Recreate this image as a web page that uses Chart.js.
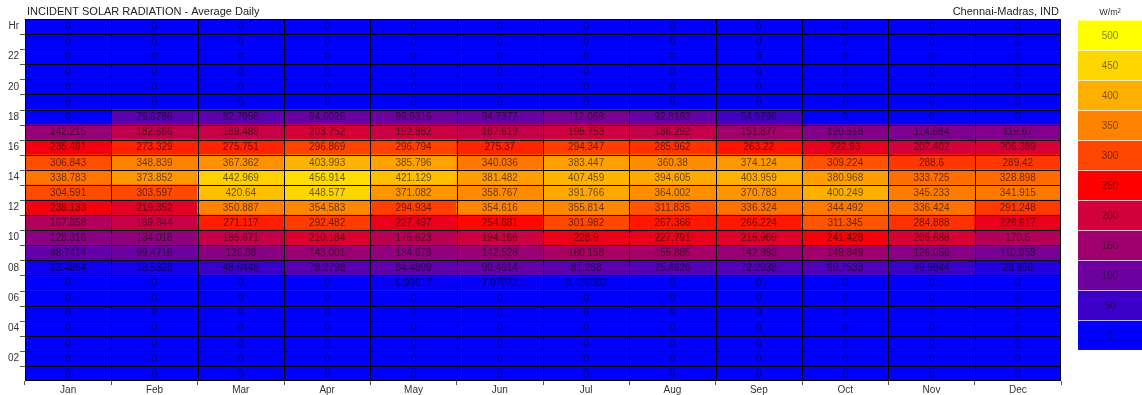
<!DOCTYPE html>
<html>
<head>
<meta charset="utf-8">
<title>Incident Solar Radiation</title>
<script src="https://cdn.jsdelivr.net/npm/chart.js@4.4.0/dist/chart.umd.min.js"></script>
<style>
  body { margin: 0; background: #fff; }
</style>
</head>
<body>
<canvas id="grid" width="1142" height="395"></canvas>
<script>
const months = ['Jan', 'Feb', 'Mar', 'Apr', 'May', 'Jun', 'Jul', 'Aug', 'Sep', 'Oct', 'Nov', 'Dec']

// average daily radiation, W/m2, one array per hour of the day
const h07 = [0, 0, 0, 0, 6.99617, 7.07022, 0.426602, 0, 0, 0, 0, 0]
const h08 = [13.4864, 18.5328, 48.6446, 78.2798, 84.4899, 90.4614, 81.268, 75.4626, 72.2938, 69.7533, 49.9844, 28.856]
const h09 = [88.7414, 99.4716, 126.88, 143.001, 134.678, 142.528, 160.158, 155.885, 142.393, 149.849, 126.056, 110.959]
const h10 = [128.316, 134.018, 185.671, 210.184, 175.623, 194.166, 228.9, 227.791, 215.969, 241.428, 206.688, 170.5]
const h11 = [167.858, 189.844, 271.117, 292.482, 227.497, 254.681, 301.982, 267.366, 266.224, 311.345, 284.888, 226.617]
const h12 = [238.133, 219.352, 350.887, 354.583, 294.934, 354.616, 355.814, 311.835, 336.324, 344.492, 336.424, 291.248]
const h13 = [304.591, 303.597, 420.64, 448.577, 371.082, 358.767, 391.766, 364.002, 370.783, 400.249, 345.233, 341.915]
const h14 = [338.783, 373.852, 442.969, 456.914, 421.129, 381.482, 407.459, 394.605, 403.959, 380.968, 333.725, 328.898]
const h15 = [306.843, 348.839, 367.362, 403.993, 385.796, 340.036, 383.447, 360.38, 374.124, 309.224, 288.6, 289.42]
const h16 = [235.491, 273.329, 275.751, 296.869, 296.794, 275.37, 294.347, 285.962, 263.22, 222.93, 202.402, 206.389]
const h17 = [142.215, 182.666, 189.489, 203.752, 192.882, 187.619, 195.753, 186.292, 151.877, 120.518, 114.684, 119.67]
const h18 = [0, 79.6786, 82.7956, 94.6026, 99.9316, 94.7377, 112.069, 92.8193, 54.9796, 0, 0, 0]
const night = [0, 0, 0, 0, 0, 0, 0, 0, 0, 0, 0, 0]

// hour 1 (bottom row) up to hour 24 (top row)
const hourRows = [night, night, night, night, night, night,
  h07, h08, h09, h10, h11, h12, h13, h14, h15, h16, h17, h18,
  night, night, night, night, night, night]

// colour key
const keyValues = [0, 50, 100, 150, 200, 250, 300, 350, 400, 450, 500]
const keyColors = ['#0000ff', '#3c00c8', '#6e00a0', '#a0006e', '#d2003c', '#ff0000',
  '#ff4600', '#ff8200', '#ffaf00', '#ffd700', '#ffff00']

function hexRgb(h) {
  return [1, 3, 5].map(i => parseInt(h.substr(i, 2), 16))
}

function shade(v) {
  let i = 0
  while (i < keyValues.length - 2 && v > keyValues[i + 1]) i++
  let t = (v - keyValues[i]) / (keyValues[i + 1] - keyValues[i])
  t = Math.max(0, Math.min(1, t))
  const a = hexRgb(keyColors[i]), b = hexRgb(keyColors[i + 1])
  const c = a.map((x, k) => Math.round(x + (b[k] - x) * t))
  return 'rgb(' + c.join(',') + ')'
}

Chart.defaults.font.family = '"Liberation Sans", Arial, sans-serif'
Chart.defaults.color = '#333'

const datasets = hourRows.map((vals, i) => ({
  label: 'Hr ' + (i + 1),
  data: months.map(() => [i, i + 1]),
  values: vals,
  backgroundColor: ctx => shade(vals[ctx.dataIndex]),
  borderWidth: 0,
  grouped: false,
  categoryPercentage: 1,
  barPercentage: 1
}))

// cell lines and the value text in the middle of every cell
const cellText = {
  id: 'cellText',
  afterDatasetsDraw(chart) {
    const ctx = chart.ctx
    const a = chart.chartArea
    const x = chart.scales.x, y = chart.scales.y
    ctx.save()
    ctx.strokeStyle = '#000'
    ctx.lineWidth = 1
    ctx.beginPath()
    for (let h = 0; h <= 24; h++) {
      const py = Math.min(Math.round(y.getPixelForValue(h)), a.bottom - 1) + 0.5
      ctx.moveTo(a.left, py)
      ctx.lineTo(a.right, py)
    }
    const step = x.width / months.length
    for (let m = 0; m <= months.length; m++) {
      const px = Math.min(Math.round(x.getPixelForValue(m) - step / 2), a.right - 1) + 0.5
      ctx.moveTo(px, a.top)
      ctx.lineTo(px, a.bottom)
    }
    ctx.stroke()

    ctx.font = '10px "Liberation Sans", Arial, sans-serif'
    ctx.fillStyle = 'rgba(0,0,0,0.6)'
    ctx.textAlign = 'center'
    ctx.textBaseline = 'middle'
    chart.data.datasets.forEach((ds, di) => {
      chart.getDatasetMeta(di).data.forEach((bar, j) => {
        ctx.fillText(String(ds.values[j]), bar.x, (bar.y + bar.base) / 2 + 0.5)
      })
    })
    ctx.restore()
  }
}

// hour tick marks, headings and the colour key
const extras = {
  id: 'extras',
  afterDraw(chart) {
    const ctx = chart.ctx
    const a = chart.chartArea
    const y = chart.scales.y
    ctx.save()
    ctx.strokeStyle = '#555'
    ctx.lineWidth = 1
    for (let h = 1; h < 24; h++) {
      const py = Math.round(y.getPixelForValue(h)) + 0.5
      ctx.beginPath()
      ctx.moveTo(a.left - 5, py)
      ctx.lineTo(a.left, py)
      ctx.stroke()
    }

    ctx.fillStyle = '#222'
    ctx.font = '11px "Liberation Sans", Arial, sans-serif'
    ctx.textBaseline = 'middle'
    ctx.textAlign = 'left'
    ctx.fillText('INCIDENT SOLAR RADIATION - Average Daily', a.left + 2, 12)
    ctx.textAlign = 'right'
    ctx.fillText('Chennai-Madras, IND', a.right - 2, 12)

    const kx = 1078, kw = 64, ktop = 20.5, kh = 29.95
    ctx.textAlign = 'center'
    ctx.font = '9px "Liberation Sans", Arial, sans-serif'
    ctx.fillStyle = '#333'
    ctx.fillText('W/m\u00b2', kx + 32, 13)
    ctx.font = '10px "Liberation Sans", Arial, sans-serif'
    const n = keyValues.length
    for (let i = 0; i < n; i++) {
      const k = n - 1 - i
      const top = ktop + i * kh
      ctx.fillStyle = keyColors[k]
      ctx.fillRect(kx, top, kw, kh)
      if (i > 0) {
        ctx.fillStyle = 'rgba(255,255,255,0.7)'
        ctx.fillRect(kx, Math.round(top), kw, 1)
      }
      ctx.fillStyle = 'rgba(0,0,0,0.5)'
      ctx.fillText(String(keyValues[k]), kx + 32, top + kh / 2 + 1)
    }
    ctx.restore()
  }
}

new Chart(document.getElementById('grid'), {
  type: 'bar',
  data: { labels: months, datasets: datasets },
  options: {
    responsive: false,
    devicePixelRatio: 1,
    animation: false,
    layout: { padding: { left: 0, right: 81, top: 19, bottom: 0 } },
    plugins: { legend: { display: false }, tooltip: { enabled: false } },
    scales: {
      x: {
        grid: { drawOnChartArea: false, tickLength: 4, color: '#555', offset: true },
        border: { display: false },
        ticks: { font: { size: 10 }, padding: -1, color: '#333' },
        afterFit: s => { s.height = 14 }
      },
      y: {
        min: 0,
        max: 24,
        grid: { display: false, drawTicks: false },
        border: { display: false },
        ticks: {
          font: { size: 10 },
          padding: 6,
          color: '#333',
          callback: v => {
            const h = v + 0.5
            return h === 24 ? 'Hr' : String(h).padStart(2, '0')
          }
        },
        afterBuildTicks: s => {
          const t = []
          for (let h = 2; h <= 24; h += 2) t.push({ value: h - 0.5 })
          s.ticks = t
        },
        afterFit: s => { s.width = 25 }
      }
    }
  },
  plugins: [cellText, extras]
})
</script>
</body>
</html>
